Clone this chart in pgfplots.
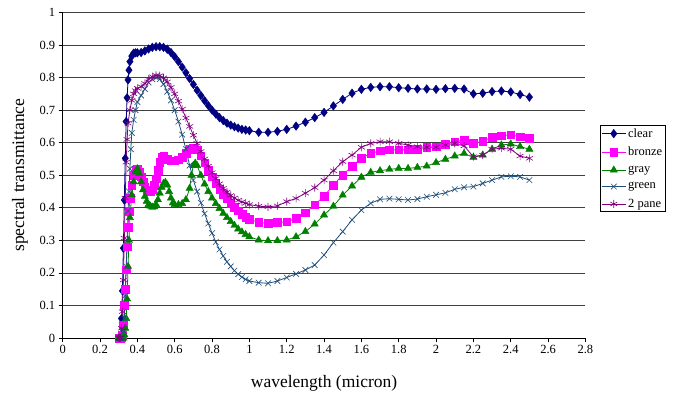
\documentclass[border=0pt]{standalone}
\usepackage{pgfplots}
\pgfplotsset{compat=1.18}
\usepackage{fontspec}
\setmainfont{Liberation Serif}
\definecolor{cClear}{HTML}{000080}
\definecolor{cBronze}{HTML}{FF00FF}
\definecolor{cGray}{HTML}{008000}
\definecolor{cGreen}{HTML}{1F4E79}
\definecolor{cPane}{HTML}{800080}
\begin{document}
\begin{tikzpicture}
\useasboundingbox (0,0) rectangle (682pt,405pt);
\begin{axis}[
  at={(62.7pt,67pt)}, anchor=south west,
  scale only axis, width=522.7pt, height=325.5pt,
  xmin=0, xmax=2.8, ymin=0, ymax=1,
  xtick distance=0.2, ytick distance=0.1,
  axis x line*=bottom, axis y line*=left,
  axis line style={black, line width=0.8pt, -},
  tick align=outside, major tick length=4pt,
  tick style={black, line width=0.7pt},
  ymajorgrids, grid style={black!75, line width=0.7pt},
  /pgf/number format/fixed, /pgf/number format/precision=1,
  /pgf/number format/assume math mode=true,
  ticklabel style={font=\fontsize{12.5}{14}\selectfont},
  xlabel={wavelength (micron)}, ylabel={spectral transmittance},
  every axis x label/.style={at={(axis description cs:0.5,-0.138)}, anchor=center, font=\fontsize{17.5}{20}\selectfont},
  every axis y label/.style={at={(axis description cs:-0.082,0.5)}, rotate=90, anchor=center, font=\fontsize{17.5}{20}\selectfont},
  legend style={at={(rel axis cs:1.028,0.654)}, anchor=north west, draw=black, line width=0.8pt,
    font=\fontsize{12.5}{14}\selectfont, inner sep=1pt, row sep=4.6pt, cells={anchor=west}},
  legend image code/.code={\draw[mark repeat=2,mark phase=2] plot coordinates {(0cm,0cm) (0.42cm,0cm) (0.84cm,0cm)};},
  every axis plot/.append style={line width=0.8pt},
]
\addplot[cClear, mark=diamond*, mark size=4.3pt, mark options={fill=cClear, line width=0.4pt}] table {
0.300 0
0.305 0
0.310 0.005
0.315 0.06
0.320 0.145
0.325 0.276
0.330 0.424
0.335 0.552
0.340 0.665
0.345 0.738
0.350 0.793
0.355 0.823
0.360 0.849
0.370 0.866
0.380 0.875
0.390 0.876
0.400 0.876
0.420 0.877
0.440 0.882
0.460 0.888
0.480 0.893
0.500 0.895
0.520 0.895
0.540 0.893
0.560 0.887
0.580 0.877
0.600 0.864
0.620 0.849
0.640 0.832
0.660 0.815
0.680 0.797
0.700 0.779
0.720 0.761
0.740 0.745
0.760 0.729
0.780 0.714
0.800 0.700
0.820 0.688
0.840 0.677
0.860 0.668
0.880 0.660
0.900 0.654
0.920 0.649
0.940 0.645
0.960 0.641
0.980 0.639
1.000 0.637
1.05 0.632
1.10 0.632
1.15 0.635
1.20 0.641
1.25 0.651
1.30 0.663
1.35 0.677
1.40 0.693
1.45 0.713
1.50 0.733
1.55 0.752
1.60 0.764
1.65 0.770
1.70 0.772
1.75 0.772
1.80 0.769
1.85 0.767
1.90 0.765
1.95 0.765
2.00 0.764
2.05 0.766
2.10 0.767
2.15 0.765
2.20 0.750
2.25 0.752
2.30 0.757
2.35 0.759
2.40 0.756
2.45 0.748
2.50 0.740
};
\addlegendentry{clear}
\addplot[cBronze, mark=square*, mark size=3.8pt, mark options={fill=cBronze, line width=0.4pt}] table {
0.300 0
0.305 0
0.310 0
0.315 0.003
0.320 0.01
0.325 0.04
0.330 0.10
0.335 0.15
0.340 0.21
0.345 0.28
0.350 0.34
0.355 0.39
0.360 0.43
0.370 0.47
0.380 0.50
0.390 0.515
0.400 0.52
0.410 0.51
0.420 0.495
0.430 0.48
0.440 0.465
0.450 0.455
0.460 0.45
0.470 0.45
0.480 0.455
0.490 0.47
0.500 0.49
0.510 0.515
0.520 0.54
0.530 0.555
0.540 0.56
0.560 0.55
0.580 0.545
0.600 0.545
0.620 0.548
0.640 0.555
0.660 0.567
0.680 0.58
0.700 0.585
0.720 0.578
0.740 0.56
0.760 0.538
0.780 0.515
0.800 0.495
0.820 0.476
0.840 0.458
0.860 0.442
0.880 0.428
0.900 0.414
0.920 0.402
0.940 0.391
0.960 0.381
0.980 0.372
1.000 0.365
1.05 0.355
1.10 0.352
1.15 0.355
1.20 0.357
1.25 0.368
1.30 0.385
1.35 0.409
1.40 0.436
1.45 0.470
1.50 0.501
1.55 0.528
1.60 0.552
1.65 0.567
1.70 0.575
1.75 0.578
1.80 0.578
1.85 0.578
1.90 0.580
1.95 0.586
2.00 0.588
2.05 0.596
2.10 0.603
2.15 0.608
2.20 0.598
2.25 0.605
2.30 0.617
2.35 0.622
2.40 0.624
2.45 0.618
2.50 0.613
};
\addlegendentry{bronze}
\addplot[cGray, mark=triangle*, mark size=4.2pt, mark options={fill=cGray, line width=0.4pt}] table {
0.300 0
0.305 0
0.310 0
0.320 0
0.325 0
0.330 0.01
0.335 0.03
0.340 0.06
0.345 0.12
0.350 0.22
0.355 0.30
0.360 0.37
0.370 0.44
0.380 0.48
0.390 0.51
0.400 0.52
0.410 0.505
0.420 0.48
0.430 0.455
0.440 0.435
0.450 0.42
0.460 0.41
0.470 0.405
0.480 0.402
0.490 0.403
0.500 0.41
0.510 0.425
0.520 0.445
0.530 0.463
0.540 0.475
0.550 0.478
0.560 0.47
0.570 0.45
0.580 0.43
0.590 0.415
0.600 0.41
0.620 0.41
0.640 0.413
0.660 0.425
0.680 0.46
0.690 0.50
0.700 0.53
0.710 0.537
0.720 0.53
0.740 0.50
0.760 0.473
0.780 0.45
0.800 0.43
0.820 0.413
0.840 0.398
0.860 0.383
0.880 0.370
0.900 0.358
0.920 0.346
0.940 0.335
0.960 0.326
0.980 0.318
1.000 0.311
1.05 0.301
1.10 0.299
1.15 0.299
1.20 0.301
1.25 0.311
1.30 0.327
1.35 0.350
1.40 0.378
1.45 0.405
1.50 0.439
1.55 0.467
1.60 0.494
1.65 0.509
1.70 0.514
1.75 0.518
1.80 0.521
1.85 0.521
1.90 0.524
1.95 0.528
2.00 0.539
2.05 0.549
2.10 0.559
2.15 0.567
2.20 0.555
2.25 0.562
2.30 0.580
2.35 0.593
2.40 0.596
2.45 0.588
2.50 0.580
};
\addlegendentry{gray}
\addplot[cGreen, mark=x, mark size=4pt, mark options={line width=0.6pt}] table {
0.300 0
0.305 0
0.310 0
0.320 0
0.325 0.02
0.330 0.06
0.335 0.13
0.340 0.22
0.345 0.30
0.350 0.39
0.355 0.45
0.360 0.52
0.365 0.58
0.370 0.63
0.380 0.67
0.390 0.70
0.400 0.725
0.420 0.745
0.440 0.765
0.460 0.785
0.480 0.795
0.500 0.800
0.520 0.795
0.540 0.780
0.560 0.757
0.580 0.730
0.600 0.700
0.620 0.665
0.640 0.625
0.660 0.580
0.680 0.530
0.700 0.485
0.720 0.450
0.740 0.415
0.760 0.382
0.780 0.352
0.800 0.322
0.820 0.295
0.840 0.272
0.860 0.252
0.880 0.234
0.900 0.220
0.920 0.207
0.940 0.196
0.960 0.187
0.980 0.180
1.000 0.175
1.05 0.170
1.10 0.168
1.15 0.175
1.20 0.186
1.25 0.197
1.30 0.209
1.35 0.224
1.40 0.255
1.45 0.293
1.50 0.327
1.55 0.363
1.60 0.393
1.65 0.414
1.70 0.426
1.75 0.428
1.80 0.426
1.85 0.424
1.90 0.427
1.95 0.434
2.00 0.440
2.05 0.446
2.10 0.457
2.15 0.463
2.20 0.465
2.25 0.475
2.30 0.485
2.35 0.495
2.40 0.497
2.45 0.495
2.50 0.485
};
\addlegendentry{green}
\addplot[cPane, mark=asterisk, mark size=4pt, mark options={line width=0.6pt}] table {
0.300 0
0.305 0
0.310 0
0.315 0.03
0.320 0.081
0.325 0.178
0.330 0.307
0.335 0.43
0.340 0.54
0.345 0.61
0.350 0.66
0.360 0.70
0.370 0.73
0.380 0.75
0.390 0.76
0.400 0.767
0.420 0.772
0.440 0.782
0.460 0.795
0.480 0.803
0.500 0.807
0.520 0.806
0.540 0.799
0.560 0.787
0.580 0.770
0.600 0.750
0.620 0.728
0.640 0.703
0.660 0.676
0.680 0.650
0.700 0.623
0.720 0.598
0.740 0.573
0.760 0.550
0.780 0.528
0.800 0.508
0.820 0.490
0.840 0.474
0.860 0.460
0.880 0.448
0.900 0.438
0.920 0.430
0.940 0.423
0.960 0.418
0.980 0.414
1.000 0.410
1.05 0.405
1.10 0.403
1.15 0.406
1.20 0.419
1.25 0.429
1.30 0.445
1.35 0.462
1.40 0.485
1.45 0.514
1.50 0.542
1.55 0.562
1.60 0.586
1.65 0.598
1.70 0.603
1.75 0.603
1.80 0.598
1.85 0.593
1.90 0.588
1.95 0.586
2.00 0.586
2.05 0.593
2.10 0.598
2.15 0.590
2.20 0.557
2.25 0.562
2.30 0.580
2.35 0.583
2.40 0.580
2.45 0.559
2.50 0.552
};
\addlegendentry{2 pane}
\end{axis}
\end{tikzpicture}
\end{document}
